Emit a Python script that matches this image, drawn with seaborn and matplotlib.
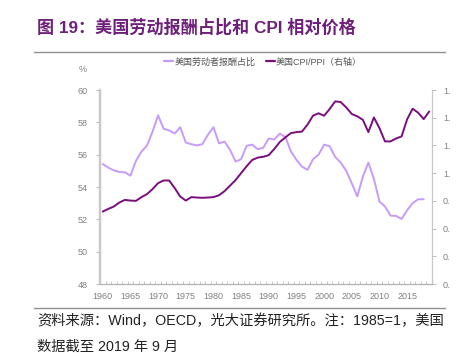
import matplotlib
matplotlib.use("Agg")
import matplotlib.pyplot as plt
from matplotlib.lines import Line2D
import numpy as np
import pandas as pd
import seaborn as sb

years = list(range(1960, 2020))

# 美国劳动者报酬占比 (%), 1960-2018
labor_share = [55.42, 55.20, 55.03, 54.93, 54.91, 54.70, 55.62, 56.19, 56.57, 57.43,
               58.43, 57.60, 57.50, 57.31, 57.70, 56.75, 56.65, 56.57, 56.65, 57.23,
               57.70, 56.70, 56.81, 56.30, 55.57, 55.72, 56.55, 56.62, 56.34, 56.42,
               57.00, 56.94, 57.30, 57.10, 56.20, 55.68, 55.26, 55.06, 55.72, 56.00,
               56.62, 56.52, 55.86, 55.51, 55.00, 54.23, 53.42, 54.64, 55.51, 54.50,
               53.10, 52.80, 52.23, 52.21, 52.02, 52.56, 53.00, 53.24, 53.24, np.nan]

# 美国CPI/PPI, 1985=1
cpi_ppi = [0.723, 0.742, 0.759, 0.788, 0.807, 0.802, 0.800, 0.827, 0.849, 0.885,
           0.928, 0.947, 0.947, 0.892, 0.831, 0.802, 0.827, 0.824, 0.822, 0.824,
           0.827, 0.840, 0.870, 0.910, 0.950, 1.000, 1.050, 1.095, 1.112, 1.118,
           1.130, 1.175, 1.225, 1.258, 1.289, 1.296, 1.300, 1.350, 1.415, 1.432,
           1.414, 1.463, 1.518, 1.513, 1.474, 1.427, 1.410, 1.385, 1.296, 1.402,
           1.325, 1.229, 1.229, 1.250, 1.265, 1.388, 1.465, 1.436, 1.390, 1.445]

left_ticks = [48, 50, 52, 54, 56, 58, 60]
right_ticks = [0.2, 0.4, 0.6, 0.8, 1.0, 1.2, 1.4, 1.6]
right_tick_labels = ['0.', '0.', '0.', '0.', '1.', '1.', '1.', '1.']
x_ticks = list(range(1960, 2020, 5))

LIGHT = '#C79BFA'
DARK = '#7A0E7C'
GREY = '#808080'

df = pd.DataFrame({'year': years, 'share': labor_share, 'ratio': cpi_ppi})

sb.set_style('white')
plt.rcParams['font.family'] = ['Liberation Sans', 'Noto Sans CJK SC']

fig = plt.figure(figsize=(4.64, 3.56), dpi=100)
ax = fig.add_axes([100 / 464, 72 / 356, 332 / 464, 194 / 356])
ax2 = ax.twinx()

sb.lineplot(data=df, x='year', y='share', ax=ax, color=LIGHT, linewidth=1.4,
            legend=False)
sb.lineplot(data=df, x='year', y='ratio', ax=ax2, color=DARK, linewidth=1.4,
            legend=False)

ax.set_xlim(1959.5, 2019.5)
ax.set_ylim(48, 60)
ax2.set_ylim(0.2, 1.6)
ax.set_yticks(left_ticks)
ax2.set_yticks(right_ticks)
ax2.set_yticklabels(right_tick_labels)
ax.set_xticks(x_ticks)
ax.set_xticks(np.arange(1959.5, 2020, 1), minor=True)
ax.set_xlabel('')
ax.set_ylabel('')
ax2.set_ylabel('')

for a in (ax, ax2):
    a.spines['top'].set_visible(False)
    a.spines['left'].set_color('#C8C8C8')
    a.spines['right'].set_color('#C8C8C8')
    a.spines['bottom'].set_color('#B0B0B0')
    a.spines['left'].set_linewidth(1.6)
    a.spines['right'].set_linewidth(0.8)
    a.spines['bottom'].set_linewidth(0.8)
    a.grid(False)

ax.tick_params(axis='y', which='major', left=True, length=3, width=0.6,
               color='#B0B0B0', labelsize=6.5, labelcolor=GREY, pad=6)
ax2.tick_params(axis='y', which='major', right=True, length=3, width=0.6,
                color='#B0B0B0', labelsize=6.5, labelcolor=GREY, pad=5)
ax.tick_params(axis='x', which='major', bottom=False, labelsize=6.5,
               labelcolor=GREY, pad=2)
ax.tick_params(axis='x', which='minor', bottom=True, direction='in',
               length=2.5, width=0.5, color='#B0B0B0')

handles = [Line2D([], [], color=LIGHT, linewidth=1.6),
           Line2D([], [], color=DARK, linewidth=1.6)]
labels = ['美国劳动者报酬占比', '美国CPI/PPI（右轴）']
fig.legend(handles, labels, loc='center', bbox_to_anchor=(0.567, 1 - 62 / 356),
           ncol=2, frameon=False, fontsize=6.5, handlelength=1.0,
           handletextpad=0.1, columnspacing=1.2, labelcolor='#555555')

fig.text(83 / 464, 1 - 69 / 356, '%', fontsize=6.5, color=GREY,
         ha='center', va='center')

fig.text(37 / 464, 1 - 27 / 356, '图 19：美国劳动报酬占比和 CPI 相对价格',
         fontsize=12.3, fontweight='bold', color='#6E1F7A', ha='left', va='center')

fig.add_artist(Line2D([34 / 464, 445 / 464], [1 - 52 / 356, 1 - 52 / 356],
                      color='#909090', linewidth=1.0))
fig.add_artist(Line2D([34 / 464, 445 / 464], [1 - 308 / 356, 1 - 308 / 356],
                      color='#909090', linewidth=1.0))

fig.text(37 / 464, 1 - 321 / 356,
         '资料来源：Wind，OECD，光大证券研究所。注：1985=1，美国',
         fontsize=10.3, color='#222222', ha='left', va='center')
fig.text(37 / 464, 1 - 347 / 356, '数据截至 2019 年 9 月',
         fontsize=10.3, color='#222222', ha='left', va='center')

fig.savefig('out.png', dpi=100)
